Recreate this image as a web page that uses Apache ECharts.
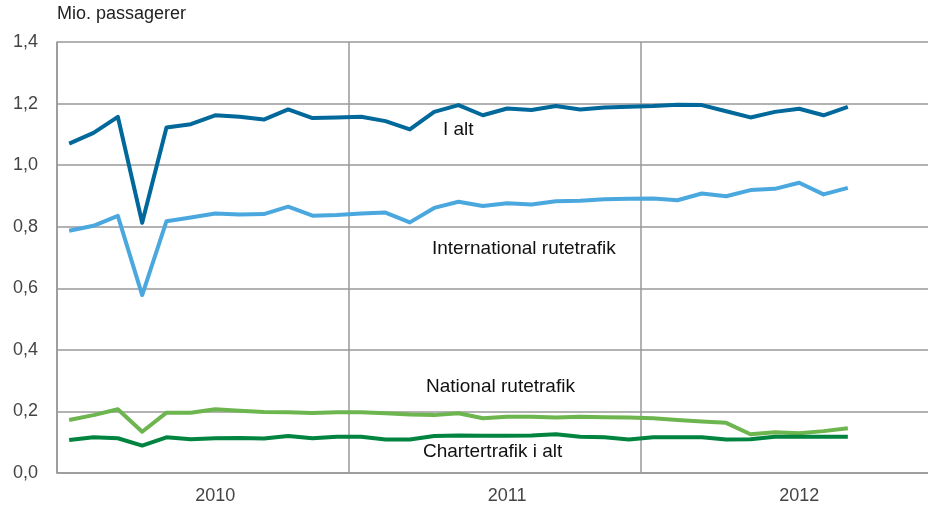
<!DOCTYPE html>
<html>
<head>
<meta charset="utf-8">
<script src="https://cdn.jsdelivr.net/npm/echarts@6/dist/echarts.min.js"></script>
<style>
  html, body { margin: 0; padding: 0; background: #fff; }
  #chart { width: 928px; height: 509px; }
</style>
</head>
<body>
<div id="chart"></div>
<script>
// months Jan 2010 - Dec 2012 (data runs to Sep 2012)
const years = ['2010', '2011', '2012']
const months = []
years.forEach(y => { for (let m = 1; m <= 12; m++) months.push(y + '-' + m) })

const iAlt = [1.070, 1.105, 1.157, 0.813, 1.122, 1.133, 1.162, 1.157, 1.148, 1.181, 1.153, 1.155,
              1.157, 1.143, 1.116, 1.173, 1.195, 1.162, 1.184, 1.179, 1.192, 1.181, 1.187, 1.190,
              1.192, 1.196, 1.195, 1.175, 1.155, 1.173, 1.183, 1.162, 1.189]
const international = [0.787, 0.803, 0.835, 0.578, 0.818, 0.830, 0.843, 0.840, 0.841, 0.865, 0.836, 0.838,
                       0.843, 0.846, 0.814, 0.861, 0.881, 0.867, 0.876, 0.872, 0.883, 0.884, 0.889, 0.891,
                       0.892, 0.886, 0.908, 0.899, 0.919, 0.923, 0.943, 0.905, 0.926]
const national = [0.172, 0.188, 0.207, 0.134, 0.196, 0.196, 0.207, 0.202, 0.198, 0.197, 0.195, 0.197,
                  0.197, 0.194, 0.190, 0.188, 0.194, 0.178, 0.183, 0.183, 0.180, 0.183, 0.181, 0.180,
                  0.178, 0.172, 0.167, 0.163, 0.126, 0.132, 0.129, 0.136, 0.145]
const charter = [0.107, 0.116, 0.113, 0.089, 0.116, 0.110, 0.113, 0.114, 0.112, 0.120, 0.113, 0.118,
                 0.118, 0.109, 0.109, 0.120, 0.122, 0.121, 0.121, 0.122, 0.126, 0.118, 0.116, 0.109,
                 0.116, 0.116, 0.116, 0.109, 0.110, 0.118, 0.118, 0.118, 0.118]

const font = 'Liberation Sans, Arial, sans-serif'

const chart = echarts.init(document.getElementById('chart'))

function line(name, data, color) {
    return {
        name: name,
        type: 'line',
        data: data,
        symbol: 'none',
        lineStyle: { color: color, width: 4, join: 'round' },
        z: 3
    }
}

chart.setOption({
    animation: false,
    // plot runs a little past the right edge of the picture
    grid: { left: 57, width: 876, top: 42, bottom: 36, outerBoundsMode: 'none' },
    xAxis: {
        type: 'category',
        data: months,
        boundaryGap: true,
        axisLine: { show: true, lineStyle: { color: '#999', width: 1.5 } },
        axisTick: { show: false },
        axisLabel: {
            interval: (i) => i % 12 === 6,
            formatter: (v) => v.split('-')[0],
            color: '#444',
            fontSize: 18,
            fontFamily: font,
            margin: 14
        },
        splitLine: {
            show: true,
            interval: (i) => i % 12 === 0,
            lineStyle: { color: '#999', width: 1.5 }
        }
    },
    yAxis: {
        type: 'value',
        min: 0,
        max: 1.4,
        interval: 0.2,
        axisLine: { show: true, lineStyle: { color: '#999', width: 1.5 } },
        axisTick: { show: false },
        axisLabel: {
            formatter: (v) => v.toFixed(1).replace('.', ','),
            color: '#444',
            fontSize: 18,
            fontFamily: font,
            margin: 19
        },
        splitLine: { lineStyle: { color: '#999', width: 1.5 } }
    },
    graphic: [
        { type: 'text', left: 57, top: 5, style: { text: 'Mio. passagerer', fontSize: 18, fontFamily: font, fill: '#222' } },
        { type: 'text', left: 443, top: 120, style: { text: 'I alt', fontSize: 19, fontFamily: font, fill: '#111' } },
        { type: 'text', left: 432, top: 239, style: { text: 'International rutetrafik', fontSize: 19, fontFamily: font, fill: '#111' } },
        { type: 'text', left: 426, top: 377, style: { text: 'National rutetrafik', fontSize: 19, fontFamily: font, fill: '#111' } },
        { type: 'text', left: 423, top: 442, style: { text: 'Chartertrafik i alt', fontSize: 19, fontFamily: font, fill: '#111' } }
    ],
    series: [
        line('I alt', iAlt, '#00689a'),
        line('International rutetrafik', international, '#4aa8de'),
        line('National rutetrafik', national, '#6db54e'),
        line('Chartertrafik i alt', charter, '#00843f')
    ]
})
</script>
</body>
</html>
